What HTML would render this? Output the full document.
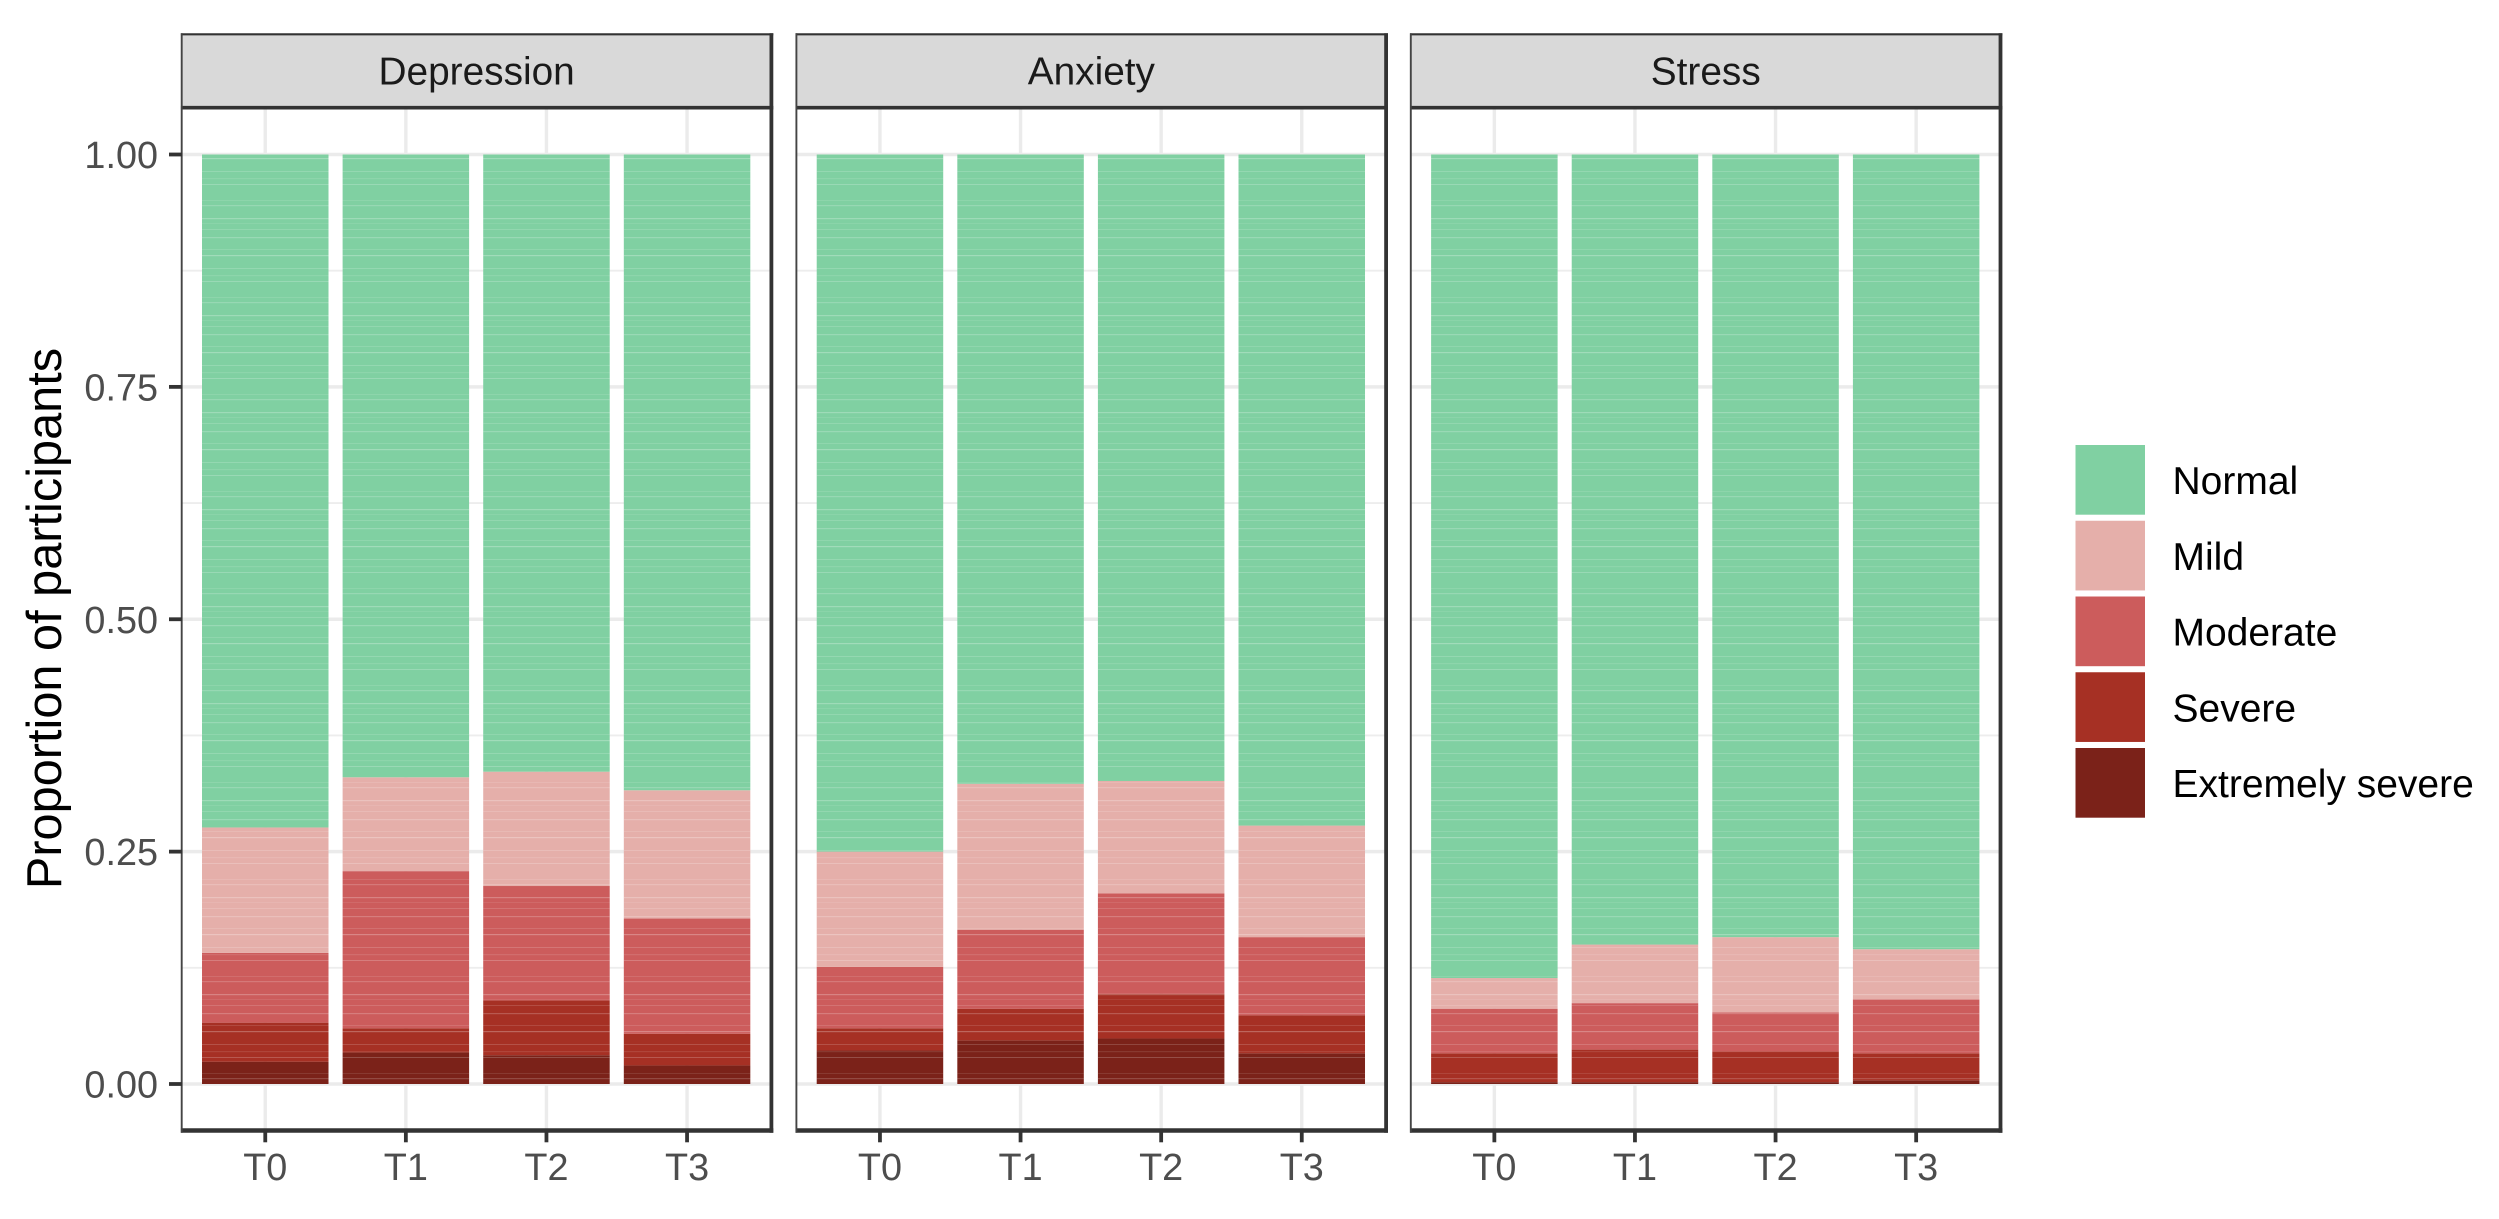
<!DOCTYPE html>
<html lang="en">
<head>
<meta charset="utf-8">
<title>Proportion of participants by severity</title>
<style>
html,body{margin:0;padding:0;background:#fff;width:2499px;height:1219px;overflow:hidden}
svg{display:block}
text{font-family:"Liberation Sans",Arial,sans-serif}
</style>
</head>
<body>
<svg id="chart" xmlns="http://www.w3.org/2000/svg" width="2499" height="1219" viewBox="0 0 2499 1219">
  <defs>
    <pattern id="stripe-texture" patternUnits="userSpaceOnUse" x="0" y="2" width="10" height="97">
      <rect x="0" y="4" width="10" height="1" fill="#fff" fill-opacity="0.1"/>
      <rect x="0" y="9" width="10" height="1.2" fill="#fff" fill-opacity="0.18"/>
      <rect x="0" y="22" width="10" height="1.2" fill="#fff" fill-opacity="0.24"/>
      <rect x="0" y="27" width="10" height="1" fill="#fff" fill-opacity="0.08"/>
      <rect x="0" y="33" width="10" height="1" fill="#fff" fill-opacity="0.14"/>
      <rect x="0" y="41" width="10" height="1.2" fill="#fff" fill-opacity="0.2"/>
      <rect x="0" y="53" width="10" height="1" fill="#fff" fill-opacity="0.12"/>
      <rect x="0" y="59" width="10" height="1.2" fill="#fff" fill-opacity="0.26"/>
      <rect x="0" y="72" width="10" height="1" fill="#fff" fill-opacity="0.16"/>
      <rect x="0" y="79" width="10" height="1.2" fill="#fff" fill-opacity="0.1"/>
      <rect x="0" y="85" width="10" height="1" fill="#fff" fill-opacity="0.2"/>
    </pattern>
  </defs>
</svg>
<script>
// ---- chart data: proportions ----
const categories = ['T0', 'T1', 'T2', 'T3'];
const facetNames = ['Depression', 'Anxiety', 'Stress'];
const levelNames = ['Normal', 'Mild', 'Moderate', 'Severe', 'Extremely severe'];
const yBreaks = [0, 0.25, 0.5, 0.75, 1];
const yTickLabels = ['0.00', '0.25', '0.50', '0.75', '1.00'];
const yMinorBreaks = [0.125, 0.375, 0.625, 0.875];

const depressionExtreme = [0.024, 0.034, 0.031, 0.020];
const depressionSevere = [0.042, 0.026, 0.059, 0.034];
const depressionModerate = [0.075, 0.169, 0.123, 0.124];
const depressionMild = [0.135, 0.101, 0.123, 0.138];
const depressionNormal = [0.724, 0.670, 0.664, 0.684];

const anxietyExtreme = [0.036, 0.047, 0.049, 0.033];
const anxietySevere = [0.024, 0.034, 0.048, 0.041];
const anxietyModerate = [0.066, 0.085, 0.108, 0.084];
const anxietyMild = [0.124, 0.157, 0.121, 0.120];
const anxietyNormal = [0.750, 0.677, 0.674, 0.722];

const stressExtreme = [0.002, 0.002, 0.002, 0.004];
const stressSevere = [0.031, 0.035, 0.033, 0.029];
const stressModerate = [0.048, 0.050, 0.042, 0.058];
const stressMild = [0.033, 0.063, 0.081, 0.054];
const stressNormal = [0.886, 0.850, 0.842, 0.855];

// stacking order: bottom to top
const facetSeries = [
  [depressionExtreme, depressionSevere, depressionModerate, depressionMild, depressionNormal],
  [anxietyExtreme, anxietySevere, anxietyModerate, anxietyMild, anxietyNormal],
  [stressExtreme, stressSevere, stressModerate, stressMild, stressNormal]
];
const stackLevelNames = ['extremely-severe', 'severe', 'moderate', 'mild', 'normal'];
const stackColors = ['#7b2219', '#a63024', '#cc5c5c', '#e5afaa', '#80d0a2'];
const legendColors = ['#80d0a2', '#e5afaa', '#cc5c5c', '#a63024', '#7b2219'];

// ---- layout ----
const svg = document.getElementById('chart');
const NS = 'http://www.w3.org/2000/svg';
const panelLefts = [180.9, 795.6, 1410];
const panelWidth = 590.5;
const stripTop = 34.3;
const panelTop = 107.7;
const panelBottom = 1130.5;
const yZero = 1084;
const yOne = 154.5;
const catStep = 140.6;
const barWidth = 126.5;

function yScale(v) { return yZero - v * (yZero - yOne); }
function xScale(panelIndex, catIndex) { return panelLefts[panelIndex] + 0.6 * catStep + catIndex * catStep; }

function shape(tag, attrs, parent) {
  const el = document.createElementNS(NS, tag);
  for (const k in attrs) el.setAttribute(k, attrs[k]);
  (parent || svg).appendChild(el);
  return el;
}
function label(str, attrs, parent) {
  const el = shape('text', attrs, parent);
  el.textContent = str;
  return el;
}

const bg = shape('rect', { x: 0, y: 0, width: 2499, height: 1219, fill: '#fff' });



facetNames.forEach(function (facet, p) {
  const left = panelLefts[p];
  const right = left + panelWidth;
  const slug = facet.toLowerCase();

  const group = shape('g', {});
  
  

  yMinorBreaks.forEach(function (v) {
    const g = shape('line', { x1: left, x2: right, y1: yScale(v), y2: yScale(v), stroke: '#ededed', 'stroke-width': 1.8 }, group);
    
    
  });
  yBreaks.forEach(function (v) {
    const g = shape('line', { x1: left, x2: right, y1: yScale(v), y2: yScale(v), stroke: '#ebebeb', 'stroke-width': 3.4 }, group);
    
    
  });
  categories.forEach(function (c, i) {
    const g = shape('line', { x1: xScale(p, i), x2: xScale(p, i), y1: panelTop, y2: panelBottom, stroke: '#ebebeb', 'stroke-width': 3.4 }, group);
    
    
  });

  // stacked bars
  categories.forEach(function (c, i) {
    let cum = 0;
    facetSeries[p].forEach(function (values, s) {
      const yLow = yScale(cum);
      cum += values[i];
      const yHigh = yScale(cum);
      const attrs = { x: xScale(p, i) - barWidth / 2, y: yHigh, width: barWidth, height: Math.max(0, yLow - yHigh) };
      const bar = shape('rect', Object.assign({ fill: stackColors[s] }, attrs), group);
      
      
      const tex = shape('rect', Object.assign({ fill: 'url(#stripe-texture)' }, attrs), group);
      
      
    });
  });

  // strip
  const strip = shape('rect', { x: left + 0.8, y: stripTop, width: panelWidth - 0.8, height: panelTop - stripTop, fill: '#d9d9d9' }, group);
  
  
  const stripText = label(facet, { x: left + panelWidth / 2 + 0.5, y: 84.3, 'text-anchor': 'middle', 'font-size': 38.8, fill: '#1a1a1a' }, group);
  
  

  // borders
  const bTop = shape('line', { x1: left, x2: right + 1.9, y1: stripTop, y2: stripTop, stroke: '#333', 'stroke-width': 2.2 }, group);
  
  
  const bMid = shape('line', { x1: left, x2: right + 1.9, y1: panelTop, y2: panelTop, stroke: '#333', 'stroke-width': 3.6 }, group);
  
  
  const bBot = shape('line', { x1: left, x2: right + 1.9, y1: panelBottom, y2: panelBottom, stroke: '#333', 'stroke-width': 4.4 }, group);
  
  
  const bLeft = shape('line', { x1: left + 0.8, x2: left + 0.8, y1: stripTop - 1, y2: panelBottom + 2.2, stroke: '#444', 'stroke-width': 1.9 }, group);
  
  
  const bRight = shape('line', { x1: right, x2: right, y1: stripTop - 1, y2: panelBottom + 2.2, stroke: '#333', 'stroke-width': 3.8 }, group);
  
  

  // x axis
  categories.forEach(function (c, i) {
    const tick = shape('line', { x1: xScale(p, i), x2: xScale(p, i), y1: panelBottom, y2: 1142.3, stroke: '#333', 'stroke-width': 3.8 }, group);
    
    
    const t = label(c, { x: xScale(p, i), y: 1180, 'text-anchor': 'middle', 'font-size': 37.8, fill: '#4d4d4d' }, group);
    
    
  });
});

// y axis
yBreaks.forEach(function (v, i) {
  const tick = shape('line', { x1: 169, x2: 182, y1: yScale(v), y2: yScale(v), stroke: '#333', 'stroke-width': 3.8 });
  
  
  const t = label(yTickLabels[i], { x: 158, y: yScale(v) + 13.6, 'text-anchor': 'end', 'font-size': 37.8, fill: '#4d4d4d' });
  
  
});
const yTitle = label('Proportion of participants', { x: 0, y: 0, transform: 'translate(61 618.5) rotate(-90)', 'text-anchor': 'middle', 'font-size': 48.7, fill: '#000' });



// legend
levelNames.forEach(function (name, i) {
  const top = 445 + i * 75.75;
  const key = shape('rect', { x: 2075.5, y: top, width: 69.5, height: 69.7, fill: legendColors[i] });
  
  
  const t = label(name, { x: 2172.5, y: top + 49, 'font-size': 39, fill: '#000' });
  
  
});
</script>
</body>
</html>
